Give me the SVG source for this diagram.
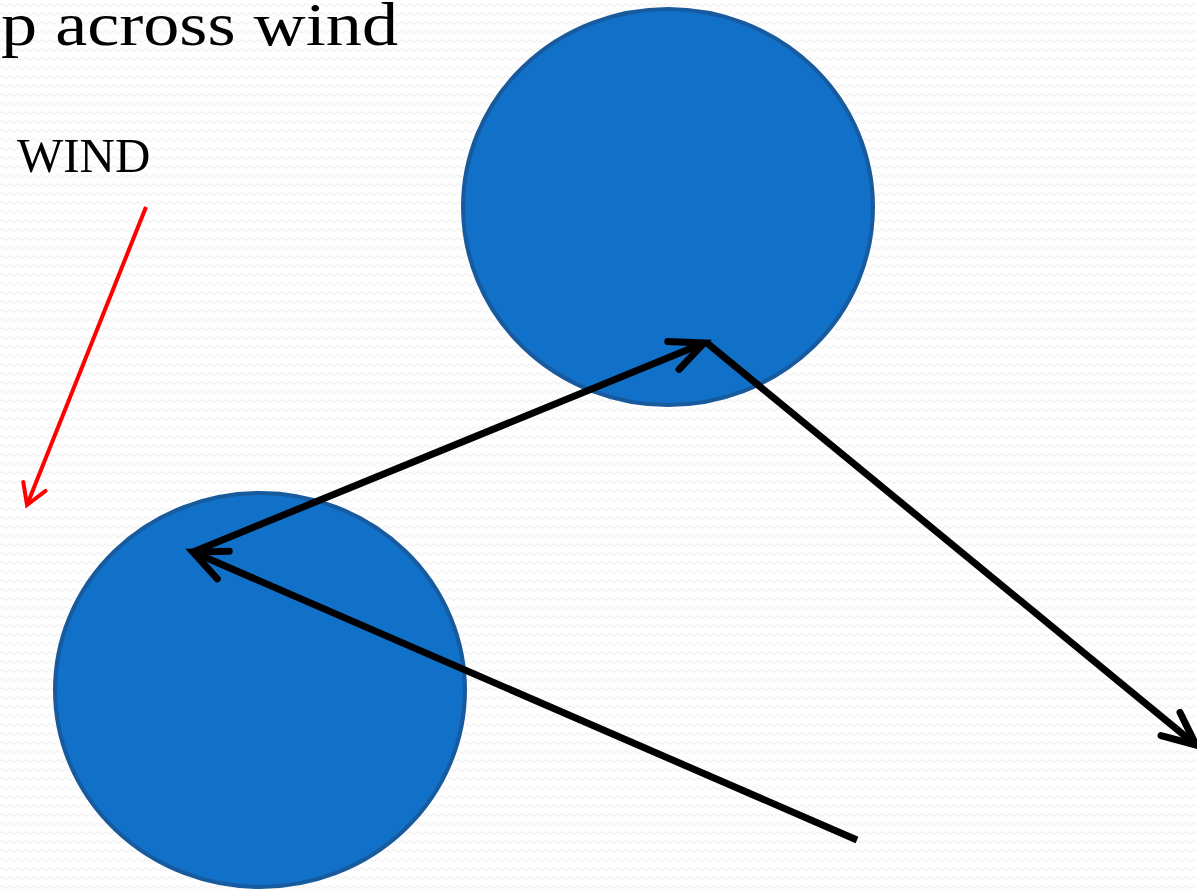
<svg xmlns="http://www.w3.org/2000/svg" width="1197" height="890" viewBox="0 0 1197 890">
  <style>
    .ball { fill: #1170c8; stroke: #175a9e; stroke-width: 4; }
    .conn { fill: none; stroke: #000; stroke-width: 7; stroke-linecap: butt; }
    .wind { fill: none; stroke: #ff0000; stroke-width: 4; }
    .title { font-family: "Liberation Serif", "DejaVu Serif", serif; fill: #000; }
  </style>
  <defs>
    <pattern id="bg" width="8" height="9" patternUnits="userSpaceOnUse">
      <rect width="8" height="9" fill="#fefefe"/>
      <path d="M0,5 Q2,2 4,5 T8,5" fill="none" stroke="#ededed" stroke-width="1"/>
    </pattern>
    <marker id="headK" markerUnits="userSpaceOnUse" orient="auto" refX="0" refY="0" markerWidth="1" markerHeight="1" overflow="visible">
      <path d="M-33,-15 L0,0 L-33,15" fill="none" stroke="#000" stroke-width="7" stroke-linecap="round" stroke-linejoin="miter"/>
    </marker>
    <marker id="headR" markerUnits="userSpaceOnUse" orient="auto" refX="0" refY="0" markerWidth="1" markerHeight="1" overflow="visible">
      <path d="M-20,-12 L0,0 L-20,12" fill="none" stroke="#ff0000" stroke-width="4" stroke-linecap="round" stroke-linejoin="miter"/>
    </marker>
  </defs>
  <rect width="1197" height="890" fill="url(#bg)"/>
  <text class="title" x="1" y="45" font-size="62" textLength="397" lengthAdjust="spacingAndGlyphs">p across wind</text>
  <g id="wind-label">
    <text class="title" x="17" y="172" font-size="49">WIND</text>
  </g>
  <g id="ball-top">
    <ellipse class="ball" cx="668" cy="207" rx="205" ry="198"/>
  </g>
  <g id="ball-bottom">
    <ellipse class="ball" cx="260" cy="690" rx="205" ry="197"/>
  </g>
  <g id="connectors">
    <line class="wind" x1="146" y1="207" x2="27" y2="505" marker-end="url(#headR)"/>
    <line class="conn" x1="857" y1="840" x2="193" y2="552" marker-end="url(#headK)"/>
    <line class="conn" x1="193" y1="552" x2="704" y2="343" marker-end="url(#headK)"/>
    <line class="conn" x1="707" y1="343" x2="1196" y2="745" marker-end="url(#headK)"/>
  </g>
</svg>
